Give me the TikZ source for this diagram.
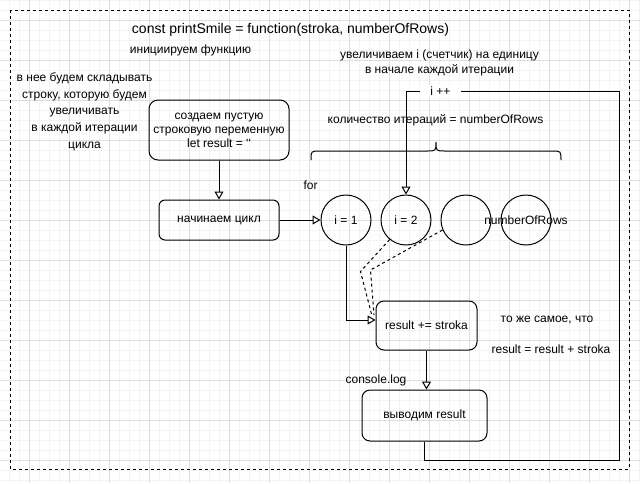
\documentclass[tikz,border=0pt]{standalone}
\usepackage{fontspec}
\setmainfont{Liberation Sans}[Ligatures=TeXOff]
\usetikzlibrary{arrows.meta}
\definecolor{gminor}{RGB}{243,243,243}
\definecolor{gmajor}{RGB}{222,222,222}
\begin{document}
\begin{tikzpicture}[x=1pt,y=-1pt,
  every node/.style={font=\fontsize{12}{14}\selectfont, inner sep=0pt, text=black},
  box/.style={draw, line width=1pt, rounded corners=8pt, align=center},
  circ/.style={draw, line width=1pt, circle, minimum size=50pt},
  conn/.style={line width=1pt, -{Triangle[open, length=8pt, width=9pt, fill=white]}},
  dconn/.style={line width=1pt, dash pattern=on 3pt off 3pt},
  lbl/.style={align=center},
  frame/.style={line width=1pt, dash pattern=on 3pt off 3pt}
]
\useasboundingbox (0,0) rectangle (640,483);
\fill[white] (0,0) rectangle (640,483);
% grid
\foreach \x in {9.5,19.5,...,639.5} \draw[gminor, line width=1pt] (\x,0) -- (\x,483);
\foreach \y in {0.5,10.5,...,480.5} \draw[gminor, line width=1pt] (0,\y) -- (640,\y);
\foreach \x in {29.5,69.5,...,629.5} \draw[gmajor, line width=1pt] (\x,0) -- (\x,483);
\foreach \y in {20.5,60.5,...,460.5} \draw[gmajor, line width=1pt] (0,\y) -- (640,\y);

% outer dashed frame
\draw[frame] (10,10) rectangle (629,469);

% texts
\node[lbl, font=\fontsize{14}{16}\selectfont] (title) at (290.5,30) {const printSmile = function(stroka, numberOfRows)};
\node[lbl] (init) at (190.5,50) {инициируем функцию};
\node[lbl, font=\fontsize{12}{16.7}\selectfont] (left) at (84.5,111.5) {в нее будем складывать\\строку, которую будем\\увеличивать\\в каждой итерации\\цикла};
\node[lbl, font=\fontsize{12}{15.5}\selectfont] (inc) at (439.5,63) {увеличиваем i (счетчик) на единицу\\в начале каждой итерации};
\node[lbl] (count) at (435.5,120) {количество итераций = numberOfRows};
\node[lbl] (for) at (310.5,185) {for};
\node[lbl] (clog) at (376,380) {console.log};
\node[lbl] (same) at (547,320) {то же самое, что};
\node[lbl] (eq) at (551,349) {result = result + stroka};

% boxes
\node[box, minimum width=140pt, minimum height=60pt, rounded corners=9pt] (b1) at (219,130) {создаем пустую\\строковую переменную\\let result = ''};
\node[box, minimum width=120pt, minimum height=40pt, rounded corners=6pt] (b2) at (219,220) {начинаем цикл};
\node[circ] (c1) at (346,220) {i = 1};
\node[circ] (c2) at (406,220) {i = 2};
\node[circ] (c3) at (466,220) {};
\node[circ] (c4) at (526,220) {};
\node[lbl] (nrows) at (526,220) {numberOfRows};
\node[box, minimum width=101pt, minimum height=49pt] (res) at (426.5,325.5) {result += stroka};
\node[box, minimum width=125pt, minimum height=51pt] (out) at (424.5,415.5) {выводим result};

% brace
\draw[line width=1pt] (311,160) .. controls (311,151) .. (320,151) -- (427,151)
  .. controls (436,151) .. (436,142) .. controls (436,151) .. (445,151) -- (552,151)
  .. controls (561,151) .. (561,160);

% connectors
\draw[conn] (b1) -- (b2);
\draw[conn] (b2) -- (c1);
\draw[conn] (c1.south) |- ([yshift=5.5pt]res.west);
\draw[conn] (res.south) -- (res.south |- out.north);
\draw[dconn] (c2.230) -- (360.5,271.5) -- (372,316);
\draw[dconn] (c3.203) -- (370.5,270) -- (374,315);
\draw[conn] (out.south) -- (424.5,460) -- (619,460) -- (619,91) -- (406,91) -- (c2.north);
\node[fill=white, minimum width=41pt, inner ysep=2pt] (ipp) at (440.5,91) {i ++};
\end{tikzpicture}
\end{document}
